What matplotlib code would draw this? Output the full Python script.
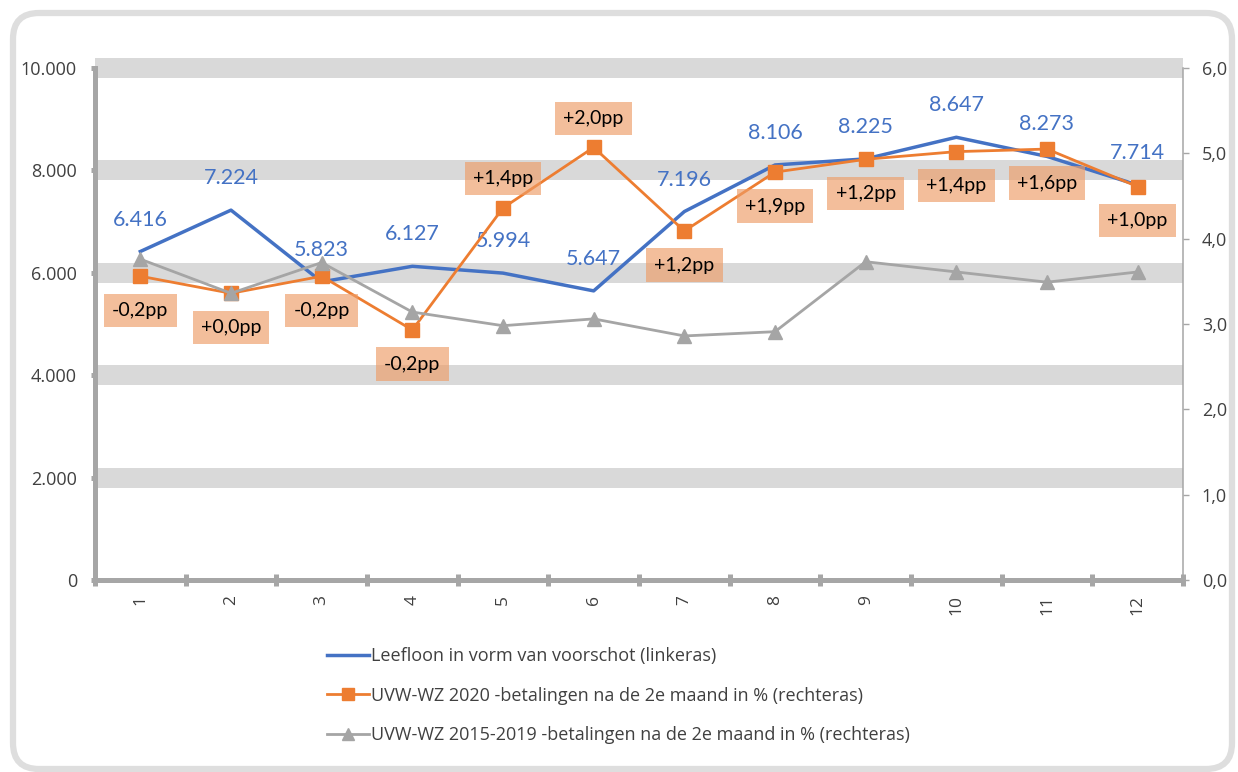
import numpy as np
import matplotlib
matplotlib.use("Agg")
import matplotlib.pyplot as plt
from matplotlib.ticker import FuncFormatter
from matplotlib.patches import FancyBboxPatch
from matplotlib.transforms import IdentityTransform

# ---- data ----
months = ["1", "2", "3", "4", "5", "6", "7", "8", "9", "10", "11", "12"]
leefloon = [6416, 7224, 5823, 6127, 5994, 5647, 7196, 8106, 8225, 8647, 8273, 7714]
uvw_2020 = [3.56, 3.36, 3.56, 2.93, 4.36, 5.07, 4.09, 4.78, 4.93, 5.02, 5.05, 4.61]
uvw_2015_2019 = [3.76, 3.36, 3.72, 3.14, 2.98, 3.06, 2.86, 2.91, 3.73, 3.61, 3.49, 3.61]
diff_labels = ["-0,2pp", "+0,0pp", "-0,2pp", "-0,2pp", "+1,4pp", "+2,0pp",
               "+1,2pp", "+1,9pp", "+1,2pp", "+1,4pp", "+1,6pp", "+1,0pp"]
diff_above = [False, False, False, False, True, True,
              False, False, False, False, False, False]
left_ticks = [0, 2000, 4000, 6000, 8000, 10000]
right_ticks = [0, 1, 2, 3, 4, 5, 6]
series_names = ["Leefloon in vorm van voorschot (linkeras)",
                "UVW-WZ 2020 -betalingen na de 2e maand in % (rechteras)",
                "UVW-WZ 2015-2019 -betalingen na de 2e maand in % (rechteras)"]

BLUE = "#4472C4"
ORANGE = "#ED7D31"
GRAY = "#A5A5A5"
AXIS = "#A6A6A6"
TXT = "#404040"
BAND = "#D9D9D9"

plt.rcParams["font.family"] = ["Open Sans", "DejaVu Sans"]

W, H = 1238, 772
fig = plt.figure(figsize=(W / 100, H / 100), dpi=100)
fig.patch.set_facecolor("white")

# outer rounded frame
frame = FancyBboxPatch((13, 3), 1219, 756,
                       boxstyle="round,pad=0,rounding_size=26",
                       transform=IdentityTransform(), facecolor="none",
                       edgecolor="#DEDEDE", linewidth=4.5)
fig.add_artist(frame)

ax = fig.add_axes([95 / W, 1 - 580 / H, (1183 - 95) / W, (580 - 68) / H])
ax2 = ax.twinx()

x = np.arange(1, len(months) + 1)

# left axis
ax.set_xlim(0.5, len(months) + 0.5)
ax.set_ylim(0, 10000)
ax.set_yticks(left_ticks)
ax.yaxis.set_major_formatter(FuncFormatter(lambda v, p: f"{int(v):,}".replace(",", ".")))
ax.set_axisbelow(True)
ax.grid(axis="y", color=BAND, linewidth=14.4, solid_capstyle="butt")
ax.grid(axis="x", visible=False)
for i, t in enumerate(ax.yaxis.get_major_ticks()):
    t.gridline.set_clip_on(False)
    t.gridline.set_solid_capstyle("butt")
    if left_ticks[i] == 0:
        t.gridline.set_visible(False)

ax.set_xticks(x)
ax.set_xticklabels(months, rotation=90)
ax.set_xticks(np.arange(0.5, len(months) + 1, 1), minor=True)
ax.tick_params(axis="x", which="major", length=0, pad=11, labelsize=12.5, labelcolor=TXT)
ax.tick_params(axis="x", which="minor", direction="inout", length=8, width=3.6, color=AXIS)
ax.tick_params(axis="y", direction="out", length=3, width=3.6, color=AXIS,
               labelsize=13, labelcolor=TXT, pad=10)

for s in ["top", "right"]:
    ax.spines[s].set_visible(False)
for s in ["left", "bottom"]:
    ax.spines[s].set_color(AXIS)
    ax.spines[s].set_linewidth(3.6)
    ax.spines[s].set_zorder(2.6)

# right axis
ax2.set_ylim(0, 6)
ax2.set_yticks(right_ticks)
ax2.yaxis.set_major_formatter(FuncFormatter(lambda v, p: f"{v:.1f}".replace(".", ",")))
ax2.tick_params(axis="y", direction="out", length=4.5, width=1.0, color=AXIS,
                labelsize=13, labelcolor=TXT, pad=9)
for s in ["top", "left", "bottom"]:
    ax2.spines[s].set_visible(False)
ax2.spines["right"].set_color(AXIS)
ax2.spines["right"].set_linewidth(1.1)

# series
l1, = ax.plot(x, leefloon, color=BLUE, linewidth=2.5, zorder=3, label=series_names[0])
l2, = ax2.plot(x, uvw_2020, color=ORANGE, linewidth=2.0, marker="s", markersize=9.5,
               zorder=3, label=series_names[1])
l3, = ax2.plot(x, uvw_2015_2019, color=GRAY, linewidth=2.0, marker="^", markersize=10,
               zorder=4, label=series_names[2])

# blue data labels
for xi, v in zip(x, leefloon):
    ax.annotate(f"{v:,}".replace(",", "."), (xi, v), xytext=(0, 23),
                textcoords="offset points", ha="center", va="center",
                fontsize=15.5, color=BLUE, family=["Lato", "DejaVu Sans"], zorder=6)

# orange difference labels
for xi, v, lab, up in zip(x, uvw_2020, diff_labels, diff_above):
    dy = 21 if up else -24.5
    ax2.annotate(lab, (xi, v), xytext=(0, dy), textcoords="offset points",
                 ha="center", va="center", fontsize=14, color="black",
                 family=["Lato", "DejaVu Sans"], zorder=7,
                 bbox=dict(boxstyle="square,pad=0.42", facecolor="#EE9C66",
                           edgecolor="none", alpha=0.65))

# legend
fig.legend(handles=[l1, l2, l3], labels=series_names, loc="upper left",
           bbox_to_anchor=(327 / W, 1 - 647 / H), frameon=False,
           fontsize=13, labelcolor=TXT, handlelength=2.3, handletextpad=0.15,
           labelspacing=1.2, borderpad=0, borderaxespad=0, markerscale=0.9)

fig.savefig("out.png", dpi=100, facecolor="white")
